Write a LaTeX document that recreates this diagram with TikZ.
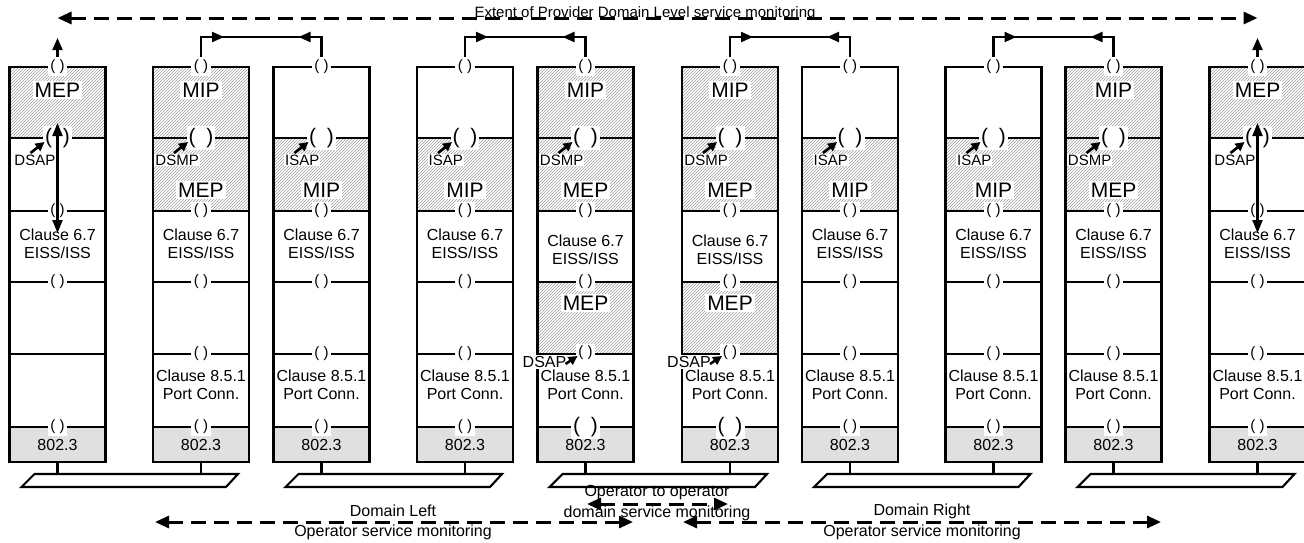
\documentclass[tikz,border=0pt]{standalone}
\usepackage{fontspec}
\setmainfont{Liberation Sans}
\usetikzlibrary{patterns,arrows.meta,calc}

\tikzset{
  frame/.style={line width=2.1pt},
  stem/.style={line width=2.8pt},
  hatch/.style={pattern=north east lines, pattern color=black!38},
  dotfill/.style={fill=black!12},
  par/.style={fill=white, inner sep=2.5pt, font=\fontsize{15}{15}\selectfont},
  bigpar/.style={fill=white, inner sep=2pt, font=\fontsize{21}{21}\selectfont},
  lab/.style={fill=white, inner sep=2pt, font=\fontsize{21}{21}\selectfont},
  sap/.style={fill=white, inner sep=1pt, font=\fontsize{15}{15}\selectfont},
  txt/.style={align=center, inner sep=0pt, font=\fontsize{16}{18}\selectfont},
  note/.style={inner sep=0pt, font=\fontsize{16}{16}\selectfont},
  conn/.style={line width=2.1pt},
  ctip/.style={line width=2.1pt, -{Triangle[length=12pt,width=10pt]}},
  sarrow/.style={line width=2.6pt, -{Triangle[length=9pt,width=9pt]}},
  varrow/.style={line width=2.1pt, {Triangle[length=13pt,width=10pt]}-{Triangle[length=13pt,width=10pt]}},
  dasharr/.style={line width=3pt, dash pattern=on 15pt off 8pt, {Triangle[length=14pt,width=12pt]}-{Triangle[length=14pt,width=12pt]}},
}

% #1 centre x, #2 from y, #3 to y
\newcommand{\hrow}[3]{\path[hatch] (#1-48,#2) rectangle (#1+48,#3);}
% #1 centre x, #2 name, #3 y of EISS text
\newcommand{\stkbase}[3]{%
  \fill[dotfill] (#1-48,427) rectangle (#1+48,462);
  \draw[frame] (#1-48,67) rectangle (#1+48,462);
  \foreach \yy in {138,211,282,354,427} {\draw[frame] (#1-48,\yy) -- (#1+48,\yy);}
  \node[par] (#2t) at (#1,67) {( )};
  \node[par] (#2b) at (#1,211) {( )};
  \node[par] (#2c) at (#1,282) {( )};
  \node[txt] (#2eiss) at (#1,#3) {Clause 6.7\\EISS/ISS};
  \node[txt] (#2phy) at (#1,445) {802.3};
  \coordinate (#2bot) at (#1,462);
}
\newcommand{\stkport}[2]{%
  \node[txt] (#2port) at (#1,385) {Clause 8.5.1\\Port Conn.};
}
% #1 centre, #2 name, #3 label text
\newcommand{\saplabel}[3]{%
  \node[bigpar] (#2a) at (#1,138) {(\hspace{11pt})};
  \node[sap, anchor=east] (#2s) at (#1-1,160) {#3};
}
\newcommand{\saparrow}[1]{%
  \draw[sarrow] ($(#1a.center)+(-27,15)$) -- ($(#1a.center)+(-13,4)$);
}
% #1 left centre, #2 right centre, #3 left name, #4 right name
\newcommand{\mipconn}[4]{%
  \coordinate (#3k) at (#1,37);
  \coordinate (#4k) at (#2,37);
  \draw[conn] (#3t.north) -- (#3k) -- (#4k) -- (#4t.north);
  \draw[ctip] (#3k) -- ++(23,0);
  \draw[ctip] (#4k) -- ++(-23,0);
}
% #1 left centre, #2 right centre, #3 bus name, #4 left stack, #5 right stack
\newcommand{\busbar}[5]{%
  \coordinate (#3a) at (#1,474);
  \coordinate (#3b) at (#2,474);
  \draw[frame] (#1-23,474) -- (#2+37,474) -- (#2+25,487) -- (#1-36,487) -- cycle;
  \draw[stem] (#4bot) -- (#3a);
  \draw[stem] (#5bot) -- (#3b);
}

\begin{document}
\begin{tikzpicture}[x=1pt,y=-1pt]
\useasboundingbox (0,0) rectangle (1304,542);

% ---------- stack 1 (end MEP) ----------
\hrow{57.5}{67}{138}
\stkbase{57.5}{s1}{244}
\node[par] (s1e) at (57.5,427) {( )};
\node[lab] (s1m1) at (57.5,90) {MEP};
\saplabel{57.5}{s1}{DSAP}

% ---------- stack 2 ----------
\hrow{201}{67}{211}
\stkbase{201}{s2}{244}
\stkport{201}{s2}
\node[par] (s2d) at (201,354) {( )};
\node[par] (s2e) at (201,427) {( )};
\node[lab] (s2m1) at (201,90) {MIP};
\node[lab] (s2m2) at (201,190) {MEP};
\saplabel{201}{s2}{DSMP}

% ---------- stack 3 ----------
\hrow{321.5}{138}{211}
\stkbase{321.5}{s3}{244}
\stkport{321.5}{s3}
\node[par] (s3d) at (321.5,354) {( )};
\node[par] (s3e) at (321.5,427) {( )};
\node[lab] (s3m2) at (321.5,190) {MIP};
\saplabel{321.5}{s3}{ISAP}

% ---------- stack 4 ----------
\hrow{465}{138}{211}
\stkbase{465}{s4}{244}
\stkport{465}{s4}
\node[par] (s4d) at (465,354) {( )};
\node[par] (s4e) at (465,427) {( )};
\node[lab] (s4m2) at (465,190) {MIP};
\saplabel{465}{s4}{ISAP}

% ---------- stack 5 ----------
\hrow{585.5}{67}{211}
\hrow{585.5}{282}{354}
\stkbase{585.5}{s5}{250}
\stkport{585.5}{s5}
\node[par] (s5d) at (585.5,353) {( )};
\node[bigpar] (s5e) at (585.5,427) {(\hspace{11pt})};
\node[lab] (s5m1) at (585.5,90) {MIP};
\node[lab] (s5m2) at (585.5,190) {MEP};
\node[lab] (s5m4) at (585.5,303) {MEP};
\saplabel{585.5}{s5}{DSMP}
\node[sap, anchor=east, font=\fontsize{16}{16}\selectfont] (s5q) at (567.5,362) {DSAP};

% ---------- stack 6 ----------
\hrow{730}{67}{211}
\hrow{730}{282}{354}
\stkbase{730}{s6}{250}
\stkport{730}{s6}
\node[par] (s6d) at (730,353) {( )};
\node[bigpar] (s6e) at (730,427) {(\hspace{11pt})};
\node[lab] (s6m1) at (730,90) {MIP};
\node[lab] (s6m2) at (730,190) {MEP};
\node[lab] (s6m4) at (730,303) {MEP};
\saplabel{730}{s6}{DSMP}
\node[sap, anchor=east, font=\fontsize{16}{16}\selectfont] (s6q) at (712,362) {DSAP};

% ---------- stack 7 ----------
\hrow{850}{138}{211}
\stkbase{850}{s7}{244}
\stkport{850}{s7}
\node[par] (s7d) at (850,354) {( )};
\node[par] (s7e) at (850,427) {( )};
\node[lab] (s7m2) at (850,190) {MIP};
\saplabel{850}{s7}{ISAP}

% ---------- stack 8 ----------
\hrow{993.5}{138}{211}
\stkbase{993.5}{s8}{244}
\stkport{993.5}{s8}
\node[par] (s8d) at (993.5,354) {( )};
\node[par] (s8e) at (993.5,427) {( )};
\node[lab] (s8m2) at (993.5,190) {MIP};
\saplabel{993.5}{s8}{ISAP}

% ---------- stack 9 ----------
\hrow{1113.5}{67}{211}
\stkbase{1113.5}{s9}{244}
\stkport{1113.5}{s9}
\node[par] (s9d) at (1113.5,354) {( )};
\node[par] (s9e) at (1113.5,427) {( )};
\node[lab] (s9m1) at (1113.5,90) {MIP};
\node[lab] (s9m2) at (1113.5,190) {MEP};
\saplabel{1113.5}{s9}{DSMP}

% ---------- stack 10 (end MEP) ----------
\hrow{1257.5}{67}{138}
\stkbase{1257.5}{s10}{244}
\stkport{1257.5}{s10}
\node[par] (s10d) at (1257.5,354) {( )};
\node[par] (s10e) at (1257.5,427) {( )};
\node[lab] (s10m1) at (1257.5,90) {MEP};
\saplabel{1257.5}{s10}{DSAP}

% ---------- small SAP arrows ----------
\saparrow{s1}\saparrow{s2}\saparrow{s3}\saparrow{s4}\saparrow{s5}
\saparrow{s6}\saparrow{s7}\saparrow{s8}\saparrow{s9}\saparrow{s10}
\draw[sarrow] ($(s5d.center)+(-20,11)$) -- ($(s5d.center)+(-8,3)$);
\draw[sarrow] ($(s6d.center)+(-20,11)$) -- ($(s6d.center)+(-8,3)$);

% ---------- vertical arrows in end stacks ----------
\draw[varrow] ($(s1a.center)+(0,-15)$) -- ($(s1b.center)+(0,22)$);
\draw[varrow] ($(s10a.center)+(0,-15)$) -- ($(s10b.center)+(0,22)$);
\coordinate (s1up) at (57.5,38);
\coordinate (s10up) at (1257.5,38);
\draw[ctip] (s1t.north) -- (s1up);
\draw[ctip] (s10t.north) -- (s10up);

% ---------- MIP connectors ----------
\mipconn{201}{321.5}{s2}{s3}
\mipconn{465}{585.5}{s4}{s5}
\mipconn{730}{850}{s6}{s7}
\mipconn{993.5}{1113.5}{s8}{s9}

% ---------- buses ----------
\busbar{57.5}{201}{b1}{s1}{s2}
\busbar{321.5}{465}{b2}{s3}{s4}
\busbar{585.5}{730}{b3}{s5}{s6}
\busbar{850}{993.5}{b4}{s7}{s8}
\busbar{1113.5}{1257.5}{b5}{s9}{s10}

% ---------- monitoring extents ----------
\node[anchor=base, inner sep=0pt, font=\fontsize{15}{15}\selectfont] (title) at (645,17) {Extent of Provider Domain Level service monitoring};
\coordinate (tl) at (57.5,18);
\coordinate (tr) at (1257.5,18);
\draw[dasharr] (tl) -- (tr);

\node[note] (dlt) at (393,511) {Domain Left};
\node[note] (dlb) at (393,532) {Operator service monitoring};
\coordinate (dl1) at (155,522);
\coordinate (dl2) at (633,522);
\draw[dasharr] (dl1) -- (dl2);

\node[note] (drt) at (922,511) {Domain Right};
\node[note] (drb) at (922,532) {Operator service monitoring};
\coordinate (dr1) at (683,522);
\coordinate (dr2) at (1161,522);
\draw[dasharr] (dr1) -- (dr2);

\node[note] (omt) at (657,493) {Operator to operator};
\node[note] (omb) at (657,513) {domain service monitoring};
\coordinate (om1) at (587,504);
\coordinate (om2) at (728,504);
\draw[dasharr] (om1) -- (om2);
\end{tikzpicture}
\end{document}
